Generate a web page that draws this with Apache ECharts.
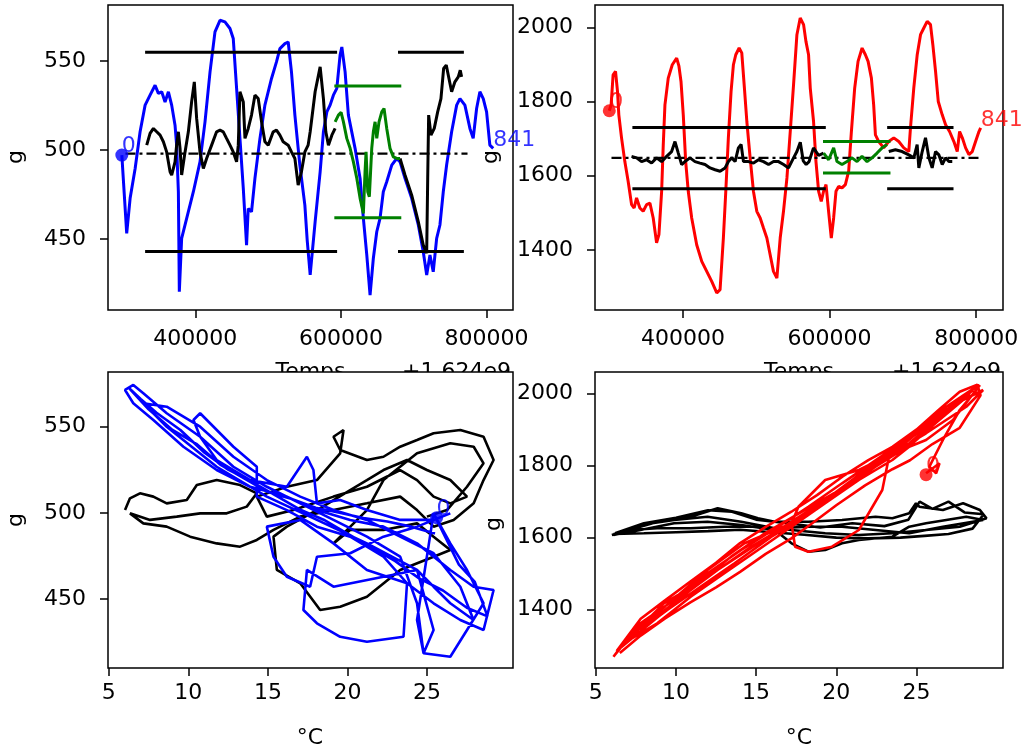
<!DOCTYPE html>
<html>
<head>
<meta charset="utf-8">
<script src="https://cdn.jsdelivr.net/npm/echarts@6/dist/echarts.min.js"></script>
<style>
  html, body { margin: 0; padding: 0; background: #fff; }
  #chart { width: 1025px; height: 752px; }
</style>
</head>
<body>
<div id="chart"></div>
<script>
// ---- tick values ----
const timeTicks = [400000, 600000, 800000];
const gLeftTicks = [450, 500, 550];
const gRightTicks = [1400, 1600, 1800, 2000];
const tempTicks = [5, 10, 15, 20, 25];

// ---- top left: weight (g) vs time ----
const blueWeight = [[299000,497.2],[305700,453.2],[310400,472.9],[317300,489.7],[324100,510.3],[331000,525.3],[337800,530.9],[344700,536.5],[349200,531.9],[353800,532.8],[358400,527.1],[363000,532.8],[367500,525.3],[372100,514.0],[374300,502.8],[376700,476.6],[378000,420.4],[381200,450.4],[388100,461.6],[397300,476.6],[406400,493.4],[413300,515.9],[420200,544.0],[427000,566.5],[433900,573.0],[440700,572.1],[447600,568.4],[452100,562.8],[456700,534.7],[461300,506.6],[465900,478.5],[470400,446.6],[472700,467.2],[477200,465.3],[481900,484.1],[488800,506.6],[495600,525.3],[504700,540.3],[511500,549.6],[516200,557.1],[523100,559.9],[527600,560.8],[532100,544.0],[536800,519.7],[543600,491.6],[550500,469.1],[553700,449.4],[557800,429.8],[564600,459.7],[571500,487.8],[576000,510.3],[580700,521.5],[585200,525.3],[589700,530.9],[594400,534.7],[598900,553.4],[601300,558.0],[605800,544.0],[610300,519.7],[619500,501.0],[626400,484.1],[630900,461.6],[635600,441.0],[640100,418.5],[644600,439.2],[649300,454.1],[653800,461.6],[658300,476.6],[663000,482.2],[669900,491.6],[676700,495.3],[681300,493.4],[688100,484.1],[697300,472.9],[706400,457.9],[713200,442.9],[717900,429.8],[722400,441.0],[726900,431.6],[731600,450.4],[736100,457.9],[740700,476.6],[745300,491.6],[752200,510.3],[759100,525.3],[763600,529.0],[770400,525.3],[777300,512.2],[781800,506.6],[786500,523.4],[791000,532.8],[795600,529.0],[800200,521.5],[804700,502.8],[809300,501.0]];

const blackLeftA = [[333200,502.8],[337800,509.4],[342400,512.2],[346900,510.3],[351600,508.4],[356100,504.7],[360600,499.0],[365300,487.8],[367500,486.0],[372100,493.4],[374300,502.8],[376700,510.3],[379000,501.0],[381200,486.0],[385900,499.0],[390400,510.3],[394900,527.1],[398600,538.4],[401800,517.8],[406400,499.0],[411000,489.7],[415500,495.3],[422400,502.8],[429200,510.3],[433900,511.2],[438400,510.3],[442900,506.6],[447600,502.8],[452100,499.0],[456700,493.4],[459000,502.8],[461300,532.8],[465900,527.1],[468200,506.6],[472700,512.2],[477200,519.7],[481900,530.9],[486400,529.0],[491000,515.9],[495600,504.7],[500200,502.8],[507000,510.3],[511500,511.2],[516200,508.4],[520700,504.7],[527600,502.8],[532100,499.0],[536800,495.3],[541300,480.3],[545800,487.8],[550500,499.0],[555000,502.8],[557800,510.3],[564600,532.8],[571500,546.8],[576000,529.0],[579300,510.3],[582900,502.8],[587600,508.4],[592100,512.2]];
const blackLeftB = [[681300,495.3],[688100,486.0],[697300,474.7],[706400,459.7],[713200,446.6],[717900,442.0],[719300,484.1],[720600,519.7],[723800,508.4],[728300,512.2],[733000,521.5],[737500,529.0],[741200,545.9],[744800,547.8],[748500,540.3],[752200,532.8],[756700,538.4],[761300,541.2],[764000,544.9],[765900,541.2]];
const greenLeft = [[592100,515.9],[596600,519.7],[600300,521.2],[603500,515.9],[608100,506.6],[612700,501.0],[617200,493.4],[621900,484.1],[626400,472.9],[630900,464.4],[633200,487.8],[634600,499.0],[636900,476.6],[639100,473.8],[642400,501.0],[644600,510.3],[647000,515.9],[649300,506.6],[652400,515.9],[656200,521.5],[659300,523.4],[663000,512.2],[667500,501.0],[672100,496.2],[676700,495.3],[681300,495.3]];

// ---- top right: weight (g) vs time ----
const redWeight = [[299500,1775],[302000,1791],[304700,1872],[308000,1881],[310700,1827],[312500,1764],[316200,1702],[320700,1638],[325200,1585],[329900,1522],[333400,1513],[336700,1540],[341200,1513],[345700,1504],[350400,1522],[354900,1526],[359400,1486],[364000,1419],[367200,1441],[370900,1558],[373100,1683],[375400,1791],[379900,1863],[385400,1899],[391400,1917],[394500,1895],[397300,1854],[400400,1764],[403700,1638],[407200,1558],[411900,1486],[418700,1414],[425600,1369],[432400,1342],[439200,1315],[446100,1284],[450600,1293],[455100,1432],[458400,1558],[461900,1702],[465600,1827],[468800,1899],[472000,1926],[476600,1944],[480200,1931],[483800,1836],[487100,1746],[491600,1648],[496100,1558],[500700,1504],[505300,1486],[509800,1459],[514400,1432],[518900,1387],[523400,1342],[528100,1324],[532600,1432],[537100,1504],[541800,1594],[546300,1719],[550800,1845],[555400,1980],[559900,2025],[564500,2007],[567700,1962],[571300,1926],[573600,1836],[578100,1746],[581400,1638],[585000,1558],[588600,1531],[591800,1558],[595100,1576],[598600,1504],[602300,1432],[605500,1486],[608700,1558],[612300,1571],[616900,1567],[621500,1576],[626000,1612],[629700,1719],[634200,1836],[638800,1908],[644300,1944],[648800,1926],[652500,1908],[657000,1863],[660100,1791],[662500,1710],[667000,1692],[673800,1675],[680600,1692],[687500,1702],[694300,1692],[701200,1675],[708000,1665],[710300,1729],[714800,1836],[719500,1926],[724000,1980],[728500,1998],[733100,2016],[737600,2007],[740800,1953],[744500,1881],[748200,1800],[753600,1764],[758200,1737],[763600,1719],[769500,1692],[774100,1665],[777300,1719],[781000,1702],[785500,1675],[790000,1657],[794600,1665],[799100,1692],[803700,1719],[806000,1729]];

const blackRightA = [[329800,1652],[336700,1648],[343500,1638],[350300,1643],[357200,1634],[364000,1648],[370800,1638],[377700,1652],[384500,1665],[389100,1692],[393600,1661],[398200,1630],[402700,1638],[409600,1648],[416400,1638],[423200,1634],[430100,1630],[436900,1621],[443800,1616],[450600,1612],[457400,1621],[462000,1638],[466500,1648],[471100,1638],[475600,1675],[479300,1684],[482500,1638],[489300,1638],[496200,1634],[503000,1643],[509800,1638],[516700,1630],[523500,1638],[530300,1638],[537200,1630],[544000,1621],[550800,1648],[555400,1665],[560000,1690],[564000,1640],[568000,1630],[572000,1638],[578000,1675],[585000,1655],[591800,1661]];
const blackRightB = [[680700,1665],[689800,1670],[698900,1665],[708000,1656],[714900,1648],[719400,1684],[721700,1621],[726300,1665],[730800,1702],[735400,1648],[739900,1621],[744500,1665],[749100,1656],[753600,1630],[758200,1648],[762700,1638],[767300,1638]];
const greenRight = [[591800,1661],[598700,1643],[605500,1675],[610100,1638],[616900,1630],[623700,1638],[630600,1648],[637400,1638],[644200,1652],[651100,1638],[657900,1648],[664700,1661],[671600,1675],[678400,1684]];

// ---- reference levels and windows ----
const leftLevels = [555, 443];
const leftGreenLevels = [536, 462];
const leftMid = 498;
const rightLevels = [1730, 1565];
const rightGreenLevels = [1692, 1607];
const rightMid = 1648;
const windowA = [331000, 594800];
const windowB = [678500, 769000];
const windowGreen = [591000, 683000];
const midSpanLeft = [304000, 774000];
const midSpanRight = [302500, 806000];

// ---- bottom left: weight (g) vs temperature (°C) ----
const blueVsTemp = [[25.41,499.7],[26.46,482.3],[27.51,466.9],[28.55,447.6],[27.51,432.1],[26.46,416.6],[24.78,418.6],[24.37,447.6],[23.31,474.6],[21.22,486.2],[19.12,495.9],[17.03,505.5],[14.93,515.1],[12.83,526.7],[10.74,544.1],[8.64,557.7],[7.17,569.3],[6.54,574.1],[6.02,571.2],[6.54,563.5],[7.80,553.8],[9.69,538.3],[11.78,524.8],[13.88,515.1],[16.19,509.4],[18.08,501.6],[20.17,495.9],[22.26,492.0],[24.37,482.3],[26.46,466.9],[27.92,457.2],[29.18,455.3],[28.55,432.1],[27.09,437.9],[25.41,447.6],[23.74,459.2],[22.26,474.6],[20.17,486.2],[18.08,492.0],[16.19,501.6],[14.30,509.4],[14.30,526.7],[12.83,538.3],[10.74,557.7],[10.32,553.8],[10.74,544.1],[11.78,530.6],[13.88,519.0],[16.19,515.1],[17.45,532.5],[17.86,524.8],[18.08,505.5],[19.54,507.4],[21.22,501.6],[23.31,495.9],[25.41,495.9],[26.46,499.7],[24.37,492.0],[22.26,486.2],[20.17,476.6],[18.08,474.6],[17.65,457.2],[16.19,463.0],[15.35,474.6],[14.93,492.0],[17.03,495.9],[19.12,482.3],[21.22,466.9],[23.74,459.2],[23.52,428.2],[21.22,425.3],[19.54,428.2],[18.08,436.0],[17.23,443.7],[17.45,466.9],[19.12,457.2],[22.26,463.0],[24.37,466.9],[25.41,457.2],[26.46,447.6],[27.92,437.9],[27.09,457.2],[25.41,476.6],[23.31,486.2],[21.22,495.9],[19.12,501.6],[17.03,509.4],[14.93,519.0],[12.83,532.5],[10.74,549.9],[8.64,561.5],[7.17,563.5],[8.64,549.9],[11.78,526.7],[14.93,509.4],[18.08,495.9],[21.22,482.3],[24.37,466.9],[25.41,432.1],[24.78,418.6],[24.37,437.9],[25.41,499.7],[27.0,470],[28.0,460],[28.8,440],[27.5,445],[26.0,455],[24.5,462],[23.0,472],[21.5,480],[20.0,488],[18.5,496],[17.0,502],[15.5,510],[14.0,518],[12.5,525],[11.0,535],[9.5,548],[8.0,558],[7.0,566],[6.3,572],[7.5,560],[9.0,548],[10.5,540],[12.0,528],[13.5,520],[15.0,512],[16.5,508],[18.0,503],[19.5,500],[21.0,497],[22.5,495],[24.0,492],[25.5,488]];
const blackVsTempLeft = [[6.02,501.6],[6.33,508.4],[6.96,511.3],[7.80,509.4],[8.64,505.5],[9.90,507.4],[10.53,516.1],[11.78,519.0],[13.25,516.1],[14.30,511.3],[13.67,503.6],[12.41,499.7],[10.74,499.7],[9.27,497.8],[7.59,495.9],[6.33,499.7],[7.17,493.9],[8.64,492.0],[10.11,486.2],[11.78,482.3],[13.25,480.4],[14.30,484.3],[15.35,490.1],[17.03,497.8],[19.12,501.6],[21.22,505.5],[23.31,509.4],[24.37,501.6],[25.41,492.0],[26.67,495.9],[27.93,505.5],[28.55,519.0],[29.18,530.6],[28.55,544.1],[27.09,548.0],[25.41,546.1],[24.37,542.2],[23.31,538.3],[22.26,532.5],[21.22,530.6],[19.54,536.4],[19.12,544.1],[19.75,548.0],[19.54,534.5],[18.08,519.0],[16.19,515.1],[14.30,509.4],[14.93,497.8],[16.61,501.6],[19.12,509.4],[21.22,515.1],[23.31,524.8],[24.37,519.0],[25.41,509.4],[26.46,505.5],[27.51,509.4],[26.46,519.0],[24.99,524.8],[23.74,530.6],[22.26,524.8],[21.22,519.0],[20.17,513.2],[18.08,501.6],[16.19,492.0],[15.35,486.2],[15.56,466.9],[17.03,459.2],[18.28,443.7],[19.54,445.6],[21.22,451.4],[23.31,466.9],[25.41,474.6],[26.46,478.5],[25.41,486.2],[24.37,493.9],[22.26,490.1],[20.17,490.1],[19.12,482.3],[21.22,501.6],[22.26,519.0],[24.37,534.5],[26.46,540.3],[27.93,538.3],[28.55,528.7],[27.51,515.1],[26.25,501.6],[24.99,497.8]];

// ---- bottom right: weight (g) vs temperature (°C) ----
const redVsTemp = [[25.60,1778.7],[26.44,1806.4],[26.23,1778.7],[25.81,1797.1],[26.65,1871.2],[27.70,1954.5],[28.74,2010.0],[28.96,2023.9],[27.28,1926.7],[25.60,1871.2],[24.55,1852.5],[23.50,1815.6],[21.41,1760.1],[19.31,1695.4],[17.21,1630.4],[15.12,1565.7],[13.02,1501.0],[10.92,1436.0],[8.83,1362.1],[6.73,1306.6],[6.10,1269.4],[7.78,1362.1],[9.88,1426.8],[11.97,1501.0],[14.07,1565.7],[16.38,1630.4],[18.26,1685.9],[20.36,1750.9],[23.08,1834.2],[24.76,1889.8],[26.86,1963.6],[28.74,2019.2],[27.70,1982.2],[26.02,1917.5],[24.55,1862.0],[22.87,1824.8],[20.36,1732.3],[18.05,1658.2],[15.96,1602.6],[13.65,1528.8],[11.55,1463.8],[9.46,1399.1],[7.78,1343.5],[10.09,1426.8],[12.60,1510.1],[15.12,1584.3],[17.21,1644.3],[19.31,1704.5],[21.41,1769.2],[23.08,1815.6],[25.18,1880.3],[27.91,1982.2],[29.16,2010.0],[28.11,1963.6],[25.60,1889.8],[23.50,1834.2],[21.41,1787.8],[19.31,1760.1],[17.64,1685.9],[17.21,1639.8],[17.43,1574.9],[18.26,1561.0],[19.73,1574.9],[21.41,1621.2],[22.87,1732.3],[23.29,1824.8],[24.76,1880.3],[26.65,1945.3],[28.33,2000.8],[26.65,1935.9],[24.76,1862.0],[22.45,1797.1],[19.73,1713.7],[17.21,1639.8],[14.28,1584.3],[11.97,1510.1],[10.51,1454.6],[8.83,1389.8],[7.15,1325.0],[9.25,1417.6],[11.35,1473.1],[13.44,1547.2],[15.54,1612.1],[18.05,1676.8],[20.57,1741.6],[23.50,1843.4],[26.02,1926.7],[28.53,2010.0],[26.86,1945.3],[24.34,1852.5],[21.82,1787.8],[19.31,1704.5],[16.79,1630.4],[14.70,1574.9],[12.60,1510.1],[10.92,1454.6],[6.3,1285],[7.8,1375],[9.3,1425],[10.9,1478],[12.5,1530],[14.0,1585],[15.6,1630],[17.2,1672],[18.8,1718],[20.4,1770],[22.0,1815],[23.5,1852],[25.0,1900],[26.4,1955],[27.7,2005],[28.8,2025],[29.0,1995],[27.7,1905],[26.0,1860],[24.6,1815],[23.5,1790],[21.8,1745],[20.0,1690],[18.5,1640],[17.2,1598],[15.6,1555],[14.0,1505],[12.5,1462],[10.9,1420],[9.3,1375],[7.8,1328],[6.5,1280]];
const blackVsTempRight = [[6.00,1607.3],[7.78,1630.4],[9.25,1649.0],[10.92,1658.2],[12.60,1681.5],[14.07,1667.6],[15.12,1653.7],[16.16,1644.3],[18.26,1644.3],[20.36,1649.0],[22.45,1658.2],[23.50,1653.7],[24.55,1667.6],[24.97,1695.4],[25.18,1685.9],[26.65,1676.8],[27.91,1695.4],[28.96,1676.8],[29.37,1653.7],[27.70,1630.4],[25.60,1621.2],[23.50,1612.1],[21.41,1607.3],[19.31,1612.1],[17.21,1621.2],[15.12,1630.4],[13.02,1630.4],[10.92,1625.9],[8.83,1625.9],[7.15,1621.2],[6.10,1607.3],[7.78,1621.2],[9.88,1639.8],[11.97,1644.3],[14.07,1635.1],[16.16,1621.2],[17.21,1584.3],[18.26,1561.0],[19.31,1565.7],[20.36,1584.3],[21.41,1593.5],[23.50,1602.6],[24.55,1630.4],[25.60,1639.8],[26.86,1649.0],[28.11,1658.2],[29.16,1649.0],[26.65,1630.4],[24.55,1612.1],[22.45,1621.2],[20.36,1630.4],[18.26,1630.4],[16.16,1625.9],[14.07,1644.3],[11.97,1658.2],[9.88,1649.0],[7.78,1635.1],[6.2,1612],[8.0,1640],[10.0,1655],[12.0,1676],[13.5,1672],[15.0,1650],[17.0,1640],[19.0,1628],[21.0,1640],[23.0,1632],[24.5,1650],[25.2,1700],[26.0,1680],[27.0,1700],[28.0,1670],[29.2,1665],[28.5,1625],[27.0,1610],[25.5,1605],[24.0,1600],[22.0,1598],[20.0,1600],[18.0,1608],[16.0,1615],[14.0,1622],[12.0,1618],[10.0,1615],[8.0,1612],[6.1,1610]];

// start markers (index 0) and end labels
const startLeftTemp = [25.6, 497.2];
const startRightTemp = [25.6, 1775];
const lastLabel = '841';
const firstLabel = '0';

const FONT = 'DejaVu Sans';
const FS = 22;

function valueAxis(gridIndex, min, max, ticks, margin) {
  return {
    type: 'value', gridIndex: gridIndex, min: min, max: max, scale: true,
    axisLine: { show: false },
    splitLine: { show: false },
    axisTick: { show: true, customValues: ticks, length: 8, lineStyle: { color: '#000', width: 1.5 } },
    axisLabel: {
      customValues: ticks, margin: margin, color: '#000', fontSize: FS, fontFamily: FONT,
      formatter: function (v) { return String(v); }
    }
  };
}

// top time axes: their names sit partly under the lower panels (z below the grid background)
function timeAxis(gridIndex) {
  return Object.assign(valueAxis(gridIndex, 280000, 836500, timeTicks, 18), {
    position: 'bottom', z: -1,
    name: 'Temps', nameLocation: 'middle', nameGap: 51,
    nameTextStyle: { color: '#000', fontSize: FS, fontFamily: FONT }
  });
}
function offsetAxis(gridIndex) {
  return {
    type: 'value', gridIndex: gridIndex, min: 280000, max: 836500, position: 'bottom', offset: 51, z: -1,
    axisLine: { show: false }, axisTick: { show: false }, axisLabel: { show: false }, splitLine: { show: false },
    name: '+1.624e9', nameLocation: 'end', nameGap: -2,
    nameTextStyle: { color: '#000', fontSize: FS, fontFamily: FONT, align: 'right', verticalAlign: 'top' }
  };
}

function line(xi, data, color, width, extra) {
  return Object.assign({
    type: 'line', xAxisIndex: xi, yAxisIndex: xi, data: data,
    showSymbol: false, symbol: 'none', clip: true, animation: false, silent: true,
    lineStyle: { color: color, width: width }, z: 2
  }, extra || {});
}

function seg(xi, span, level, color, width, dash) {
  return line(xi, [[span[0], level], [span[1], level]], color, width,
    { lineStyle: { color: color, width: width, type: dash || 'solid' } });
}

function dot(xi, point, color) {
  return {
    type: 'scatter', xAxisIndex: xi, yAxisIndex: xi, data: [point], symbolSize: 13,
    itemStyle: { color: color }, animation: false, silent: true, z: 5,
    label: { show: true, formatter: firstLabel, position: [6.5, 9], align: 'left', verticalAlign: 'bottom',
      color: color, fontSize: FS, fontFamily: FONT }
  };
}

function endText(xi, point, color) {
  return {
    type: 'scatter', xAxisIndex: xi, yAxisIndex: xi, data: [point], symbolSize: 2,
    itemStyle: { color: 'rgba(0,0,0,0)' }, animation: false, silent: true, z: 6,
    label: { show: true, formatter: lastLabel, position: [1, 4], align: 'left', verticalAlign: 'bottom',
      color: color, fontSize: FS, fontFamily: FONT }
  };
}

const gridBase = { show: true, backgroundColor: '#fff', borderColor: '#000', borderWidth: 1.5 };

const option = {
  backgroundColor: '#fff',
  animation: false,
  grid: [
    Object.assign({ left: 108, top: 5, width: 405, height: 305 }, gridBase),
    Object.assign({ left: 595, top: 5, width: 408, height: 305 }, gridBase),
    Object.assign({ left: 108, top: 372, width: 405, height: 296 }, gridBase),
    Object.assign({ left: 595, top: 372, width: 408, height: 296 }, gridBase)
  ],
  xAxis: [
    timeAxis(0),
    timeAxis(1),
    valueAxis(2, 4.95, 30.4, tempTicks, 14),
    valueAxis(3, 4.95, 30.4, tempTicks, 14),
    offsetAxis(0),
    offsetAxis(1)
  ],
  yAxis: [
    valueAxis(0, 410.1, 581.6, gLeftTicks, 22),
    valueAxis(1, 1238, 2060, gRightTicks, 22),
    valueAxis(2, 410.1, 581.6, gLeftTicks, 22),
    valueAxis(3, 1238, 2060, gRightTicks, 22)
  ],
  graphic: [
    { type: 'text', x: 16, y: 157, rotation: Math.PI / 2, style: { text: 'g', fill: '#000', fontSize: FS, fontFamily: FONT, align: 'center', verticalAlign: 'middle' } },
    { type: 'text', x: 491, y: 157, rotation: Math.PI / 2, style: { text: 'g', fill: '#000', fontSize: FS, fontFamily: FONT, align: 'center', verticalAlign: 'middle' } },
    { type: 'text', x: 16, y: 520, rotation: Math.PI / 2, style: { text: 'g', fill: '#000', fontSize: FS, fontFamily: FONT, align: 'center', verticalAlign: 'middle' } },
    { type: 'text', x: 494, y: 524, rotation: Math.PI / 2, style: { text: 'g', fill: '#000', fontSize: FS, fontFamily: FONT, align: 'center', verticalAlign: 'middle' } },
    { type: 'text', x: 310, y: 738, style: { text: '°C', fill: '#000', fontSize: FS, fontFamily: FONT, align: 'center', verticalAlign: 'middle' } },
    { type: 'text', x: 799, y: 738, style: { text: '°C', fill: '#000', fontSize: FS, fontFamily: FONT, align: 'center', verticalAlign: 'middle' } }
  ],
  series: [
    // top left
    line(0, blueWeight, '#0000ff', 3),
    seg(0, windowA, leftLevels[0], '#000', 3), seg(0, windowA, leftLevels[1], '#000', 3),
    seg(0, windowB, leftLevels[0], '#000', 3), seg(0, windowB, leftLevels[1], '#000', 3),
    seg(0, midSpanLeft, leftMid, '#000', 2.2, [10, 4, 3, 4]),
    line(0, blackLeftA, '#000', 3), line(0, blackLeftB, '#000', 3),
    line(0, greenLeft, '#008000', 3),
    seg(0, windowGreen, leftGreenLevels[0], '#008000', 3), seg(0, windowGreen, leftGreenLevels[1], '#008000', 3),
    dot(0, blueWeight[0], '#0000ff'),
    endText(0, blueWeight[blueWeight.length - 1], '#0000ff'),
    // top right
    line(1, redWeight, '#ff0000', 3),
    seg(1, windowA, rightLevels[0], '#000', 3), seg(1, windowA, rightLevels[1], '#000', 3),
    seg(1, windowB, rightLevels[0], '#000', 3), seg(1, windowB, rightLevels[1], '#000', 3),
    seg(1, midSpanRight, rightMid, '#000', 2.2, [10, 4, 3, 4]),
    line(1, blackRightA, '#000', 3), line(1, blackRightB, '#000', 3),
    line(1, greenRight, '#008000', 3),
    seg(1, windowGreen, rightGreenLevels[0], '#008000', 3), seg(1, windowGreen, rightGreenLevels[1], '#008000', 3),
    dot(1, redWeight[0], '#ff0000'),
    endText(1, redWeight[redWeight.length - 1], '#ff0000'),
    // bottom left
    line(2, blackVsTempLeft, '#000', 2.6),
    line(2, blueVsTemp, '#0000ff', 2.6),
    dot(2, startLeftTemp, '#0000ff'),
    // bottom right
    line(3, blackVsTempRight, '#000', 2.6),
    line(3, redVsTemp, '#ff0000', 2.6),
    dot(3, startRightTemp, '#ff0000')
  ]
};

const chart = echarts.init(document.getElementById('chart'));
chart.setOption(option);
</script>
</body>
</html>
